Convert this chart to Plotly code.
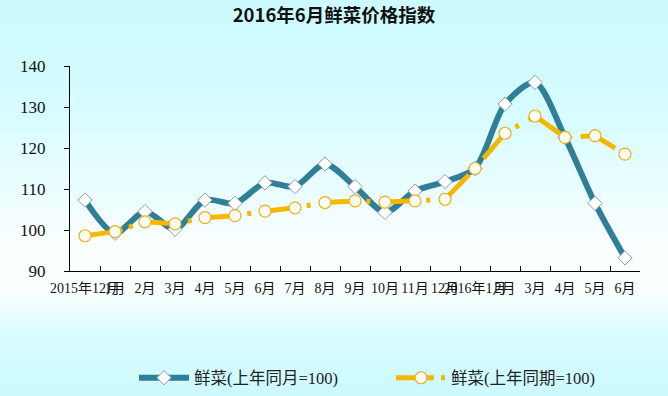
import plotly.graph_objects as go

# ---------------- data ----------------
periods = ["2014-12", "2015-01", "2015-02", "2015-03", "2015-04", "2015-05", "2015-06",
           "2015-07", "2015-08", "2015-09", "2015-10", "2015-11", "2015-12",
           "2016-01", "2016-02", "2016-03", "2016-04", "2016-05", "2016-06"]
tick_labels = ["2015年12月", "1月", "2月", "3月", "4月", "5月", "6月", "7月", "8月",
               "9月", "10月", "11月", "12月", "2016年1月", "2月", "3月", "4月", "5月", "6月"]
same_month = [107.3, 99.2, 104.5, 100.2, 107.3, 106.5, 111.5, 110.6, 116.1, 110.6,
              104.3, 109.5, 111.8, 115.0, 130.7, 136.0, 122.6, 106.5, 93.2]
same_period = [98.6, 99.6, 102.0, 101.5, 103.0, 103.5, 104.6, 105.4, 106.7, 107.1,
               106.8, 107.1, 107.5, 115.0, 123.6, 127.8, 122.6, 123.0, 118.5]
series_names = ["鲜菜(上年同月=100)", "鲜菜(上年同期=100)"]
title_text = "2016年6月鲜菜价格指数"

# ---------------- figure ----------------
W, H = 668, 396
ML, MR, MT, MB = 70, 28, 66, 125

fig = go.Figure()
fig.add_trace(go.Scatter(
    x=periods, y=same_month, name=series_names[0], mode="lines+markers",
    line=dict(color="#2F7F98", width=6, shape="spline", smoothing=0.8),
    marker=dict(symbol="diamond", size=11, color="white",
                line=dict(color="#8A9CAA", width=1)),
))
fig.add_trace(go.Scatter(
    x=periods, y=same_period, name=series_names[1], mode="lines+markers",
    line=dict(color="#F5B800", width=5, dash="38px,7px,4px,11px"),
    marker=dict(symbol="circle", size=12, color="#FFFFF4",
                line=dict(color="#E8B020", width=1.2)),
))

# vertical background gradient (cyan -> white -> cyan)
stops = [(0, (204, 250, 255)), (110, (214, 252, 255)), (200, (238, 254, 255)),
         (245, (252, 255, 255)), (290, (252, 255, 255)), (335, (216, 252, 255)),
         (396, (204, 250, 255))]
ph = H - MT - MB


def col_at(py):
    for (a, ca), (b, cb) in zip(stops[:-1], stops[1:]):
        if a <= py <= b:
            t = (py - a) / (b - a) if b > a else 0
            return tuple(round(ca[i] + (cb[i] - ca[i]) * t) for i in range(3))
    return stops[-1][1]


shapes = []
step = 6
for py in range(0, H, step):
    c = col_at(py + step / 2)
    y_top = (H - MB - py) / ph
    y_bot = (H - MB - (py + step + 1)) / ph
    shapes.append(dict(type="rect", xref="paper", yref="paper", layer="below",
                       x0=-0.3, x1=1.3, y0=y_bot, y1=y_top,
                       fillcolor="rgb(%d,%d,%d)" % c, line=dict(width=0)))

fig.update_layout(
    width=W, height=H,
    margin=dict(l=ML, r=MR, t=MT, b=MB),
    paper_bgcolor="rgb(204,250,255)",
    plot_bgcolor="rgba(0,0,0,0)",
    shapes=shapes,
    title=dict(text=title_text, x=0.5, xanchor="center", y=1 - 16 / H, yanchor="middle",
               yref="container",
               font=dict(family="Noto Sans CJK SC", size=18.5, color="#111111", weight="bold")),
    showlegend=True,
    legend=dict(orientation="h", xref="container", yref="container",
                x=134 / W, xanchor="left", y=1 - 378 / H, yanchor="middle",
                bgcolor="rgba(0,0,0,0)", itemwidth=50,
                entrywidth=192, entrywidthmode="pixels",
                font=dict(family="Liberation Serif, Noto Sans CJK SC", size=16.5, color="#222222")),
    xaxis=dict(type="category", range=[-0.5, len(periods) - 0.5], automargin=False,
               tickmode="array", tickvals=periods, ticktext=tick_labels, tickangle=0,
               tickson="boundaries", ticks="inside", ticklen=5, tickcolor="black",
               ticklabelstandoff=4,
               showline=True, linecolor="black", linewidth=1, showgrid=False,
               zeroline=False,
               tickfont=dict(family="Liberation Serif, Noto Sans CJK SC", size=14, color="#111111")),
    yaxis=dict(range=[90, 140], tick0=90, dtick=10, ticks="outside", ticklen=5,
               automargin=False, ticklabelstandoff=15,
               tickcolor="black", showline=True, linecolor="black", linewidth=1,
               showgrid=False, zeroline=False,
               tickfont=dict(family="Liberation Serif", size=17, color="#111111")),
)

fig.write_html("out.html", config={"displayModeBar": False},
               post_script="document.body.style.margin='0';"
                           "document.body.style.background='rgb(204,250,255)';")
